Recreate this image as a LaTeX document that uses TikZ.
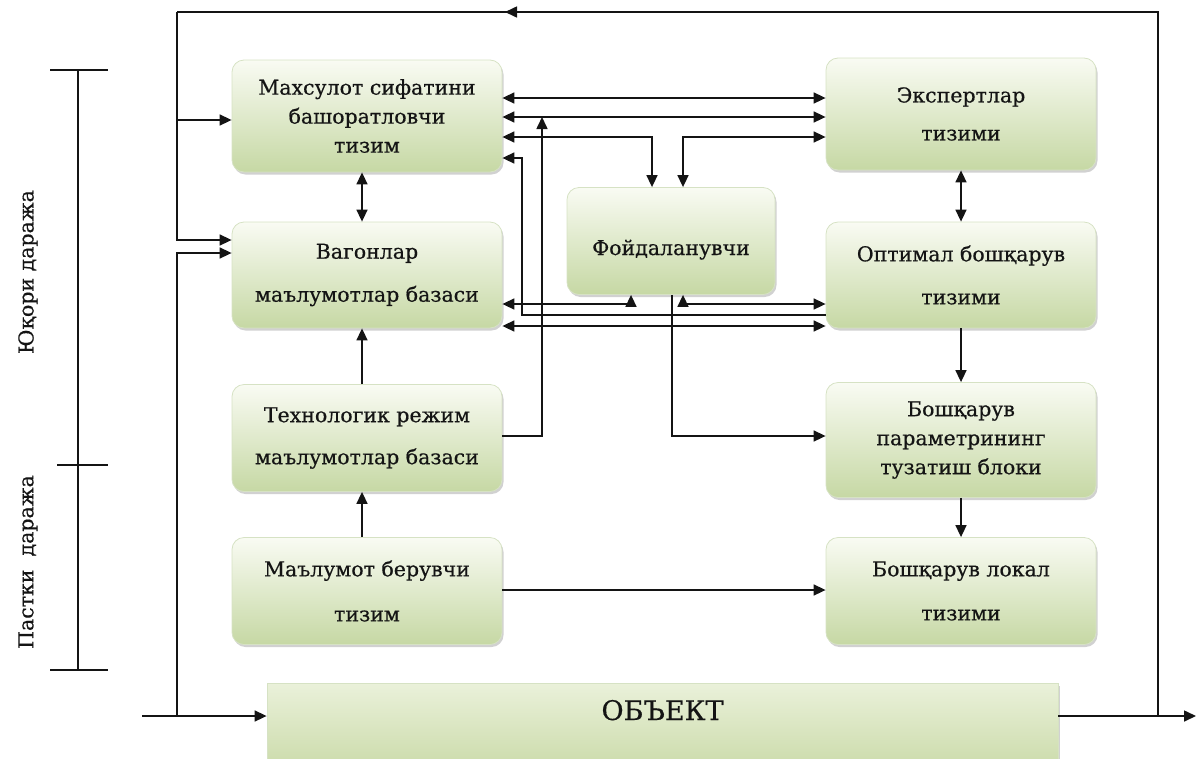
\documentclass[tikz,border=0pt]{standalone}
\usepackage{fontspec}
\setmainfont{DejaVu Serif}[UprightFeatures={FakeBold=0.5}]
\usetikzlibrary{arrows.meta,shadows,calc}
\definecolor{boxtop}{RGB}{249,251,243}
\definecolor{boxbot}{RGB}{198,216,164}
\definecolor{boxedge}{RGB}{214,226,196}
\definecolor{objtop}{RGB}{234,241,218}
\definecolor{objbot}{RGB}{203,219,170}
\definecolor{ink}{RGB}{20,20,20}
\begin{document}
\begin{tikzpicture}[x=1pt,y=-1pt,
  blk/.style={rounded corners=12pt, draw=boxedge, line width=0.8pt,
    top color=boxtop, bottom color=boxbot, minimum width=270pt,
    align=center, font=\fontsize{20.5}{29}\selectfont, inner sep=2pt,
    text=ink,
    drop shadow={shadow xshift=1.5pt, shadow yshift=-2.5pt, opacity=0.3, fill=black!60}},
  obj/.style={rectangle, draw=boxedge, line width=0.8pt,
    top color=objtop, bottom color=objbot, minimum width=791pt,
    minimum height=86pt, inner sep=0pt, text height=20pt, text depth=32pt,
    font=\fontsize{27}{32}\selectfont, text=ink,
    drop shadow={shadow xshift=1.5pt, shadow yshift=-2.5pt, opacity=0.3, fill=black!60}},
  ln/.style={line width=1.6pt, draw=ink},
  con/.style={ln, -{Triangle[length=12pt,width=11pt]}},
  bi/.style={ln, {Triangle[length=12pt,width=11pt]}-{Triangle[length=12pt,width=11pt]}},
  lvl/.style={rotate=90, font=\fontsize{20.5}{26}\selectfont, text=ink}]
\useasboundingbox (0,0) rectangle (1196,758);
\clip (0,0) rectangle (1196,758);

% blocks
\node[blk, minimum height=112pt] (A) at (367,116) {Махсулот сифатини\\башоратловчи\\тизим};
\node[blk, minimum height=106pt] (B) at (367,275) {Вагонлар\\[14pt]маълумотлар базаси};
\node[blk, minimum height=107pt] (C) at (367,438) {Технологик режим\\[13pt]маълумотлар базаси};
\node[blk, minimum height=107pt] (D) at (367,591) {Маълумот берувчи\\[16pt]тизим};
\node[blk, minimum width=208pt, minimum height=107pt, text height=30pt, text depth=2pt] (E) at (671,241) {Фойдаланувчи};
\node[blk, minimum height=112pt] (F) at (961,114) {Экспертлар\\[9pt]тизими};
\node[blk, minimum height=106pt] (G) at (961,275) {Оптимал бошқарув\\[14pt]тизими};
\node[blk, minimum height=115pt] (H) at (961,440) {Бошқарув\\параметрининг\\тузатиш блоки};
\node[blk, minimum height=107pt] (I) at (961,591) {Бошқарув локал\\[15pt]тизими};
\node[obj] (O) at (662.5,726) {ОБЪЕКТ};

% level labels
\node[lvl] (lu) at (28,272) {Юқори даража};
\node[lvl] (ll) at (28,562) {Пастки\ \ даража};
\coordinate (lvT) at (78,70);
\coordinate (lvM) at (78,465);
\coordinate (lvB) at (78,670);
\draw[ln, line width=1.1pt] (lvT) -- (lvB);
\draw[ln, line width=1.1pt] ([xshift=-28pt]lvT) -- ([xshift=30pt]lvT);
\draw[ln, line width=1.1pt] ([xshift=-21pt]lvM) -- ([xshift=30pt]lvM);
\draw[ln, line width=1.1pt] ([xshift=-28pt]lvB) -- ([xshift=30pt]lvB);

% connectors between blocks
\draw[bi] (A.east|-0,98) -- (F.west|-0,98);
\draw[bi] (A.east|-0,117) -- (F.west|-0,117);
\draw[bi] (A.east|-0,137) -| ([xshift=-19pt]E.north);
\draw[bi] ([xshift=12pt]E.north) |- (F.west|-0,137);
\coordinate (gaX) at (522,158);
\draw[con] (G.west|-0,315) -| (gaX) -- (A.east|-gaX);
\coordinate (cjX) at (542,117);
\draw[con] (C.east|-0,436) -| (cjX);
\draw[bi] (B.east|-0,304) -| ([xshift=-40pt]E.south);
\draw[bi] ([xshift=12pt]E.south) |- (G.west|-0,304);
\draw[bi] (B.east|-0,326) -- (G.west|-0,326);
\draw[con] ([xshift=1pt]E.south) |- (H.west|-0,436);
\draw[bi] ([xshift=-5pt]A.south) -- ([xshift=-5pt]B.north);
\draw[con] ([xshift=-5pt]C.north) -- ([xshift=-5pt]B.south);
\draw[con] ([xshift=-5pt]D.north) -- ([xshift=-5pt]C.south);
\draw[con] (D.east|-0,590) -- (I.west|-0,590);
\draw[bi] (F.south) -- (G.north);
\draw[con] (G.south) -- (H.north);
\draw[con] (H.south) -- (I.north);

% object input, output and feedback
\coordinate (outE) at (1196,716);
\coordinate (fbB) at (1158,716);
\coordinate (fbT) at (1158,12);
\coordinate (fbL) at (177,12);
\coordinate (fbA) at (177,120);
\coordinate (fbM) at (505,12);
\coordinate (inS) at (142,716);
\coordinate (inJ) at (177,716);
\draw[con] (O.east|-outE) -- (outE);
\draw[ln] (fbB) -- (fbT) -- (fbL);
\draw[con] (fbT) -- (fbM);
\draw[con] (fbL) |- (B.west|-0,240);
\draw[con] (fbA) -- (A.west|-fbA);
\draw[con] (inS) -- (O.west|-inS);
\draw[con] (inJ) |- (B.west|-0,253);
\end{tikzpicture}
\end{document}
